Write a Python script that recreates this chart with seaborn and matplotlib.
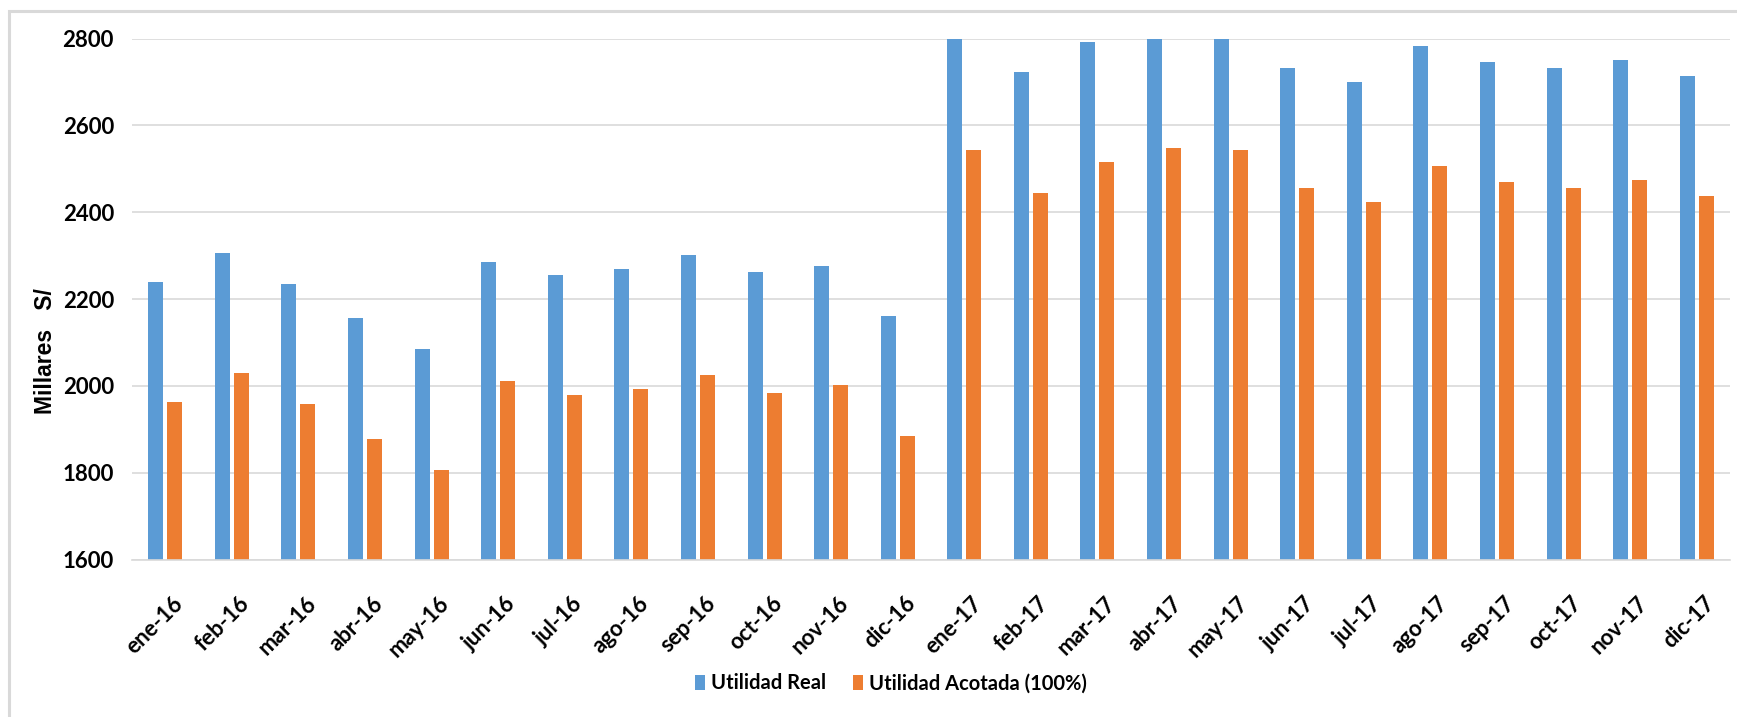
import numpy as np
import pandas as pd
import matplotlib
matplotlib.use("Agg")
import matplotlib.pyplot as plt
from matplotlib.patches import Rectangle
from matplotlib.ticker import FixedLocator
from matplotlib.font_manager import FontProperties
from matplotlib.transforms import ScaledTranslation
import seaborn as sns

# Monthly profit figures, thousands of soles
meses = [
    "ene-16", "feb-16", "mar-16", "abr-16", "may-16", "jun-16",
    "jul-16", "ago-16", "sep-16", "oct-16", "nov-16", "dic-16",
    "ene-17", "feb-17", "mar-17", "abr-17", "may-17", "jun-17",
    "jul-17", "ago-17", "sep-17", "oct-17", "nov-17", "dic-17",
]
utilidad_real = [
    2240, 2306, 2235, 2157, 2085, 2286, 2255, 2270, 2302, 2262, 2276, 2161,
    2800, 2722, 2793, 2800, 2800, 2733, 2699, 2782, 2747, 2733, 2750, 2713,
]
utilidad_acotada = [
    1963, 2029, 1958, 1877, 1807, 2012, 1978, 1992, 2024, 1983, 2001, 1885,
    2544, 2444, 2516, 2547, 2544, 2456, 2424, 2507, 2470, 2456, 2473, 2438,
]
series = ["Utilidad Real", "Utilidad Acotada (100%)"]
colores = ["#5B9BD5", "#ED7D31"]
yticks = [1600, 1800, 2000, 2200, 2400, 2600, 2800]

sns.set_style("white")
plt.rcParams["font.family"] = ["Lato", "DejaVu Sans"]
plt.rcParams["text.color"] = "black"

df = pd.DataFrame({
    "Mes": meses * 2,
    "Valor": utilidad_real + utilidad_acotada,
    "Serie": [series[0]] * len(meses) + [series[1]] * len(meses),
})

W, H = 1737, 717
fig = plt.figure(figsize=(W / 100, H / 100), dpi=100)
ax = fig.add_axes([132 / W, 1 - 559.5 / H, 1598 / W, 521 / H])

sns.barplot(
    data=df, x="Mes", y="Valor", hue="Serie", hue_order=series,
    palette=colores, saturation=1, width=0.57, gap=0.21,
    linewidth=0, ax=ax,
)

grid_col = "#d9d9d9"
ax.set_ylim(1600, 2800)
ax.set_xlim(-0.5, len(meses) - 0.5)
ax.set_yticks(yticks)
ax.yaxis.grid(True, color=grid_col, linewidth=1.2)
ax.xaxis.grid(False)
ax.set_axisbelow(True)
for s in ("top", "right", "left"):
    ax.spines[s].set_visible(False)
ax.spines["bottom"].set_color(grid_col)
ax.spines["bottom"].set_linewidth(1.2)

# y tick labels
ax.tick_params(axis="y", length=0, pad=13, labelsize=16, labelcolor="black")
for t in ax.get_yticklabels():
    t.set_fontweight("bold")

# category separators below the axis
ax.xaxis.set_minor_locator(FixedLocator(np.arange(-0.5, len(meses), 1.0)))
ax.tick_params(axis="x", which="minor", length=5.5, width=1.2,
               color=grid_col, direction="out")
ax.tick_params(axis="x", which="major", length=0, pad=24, labelsize=16,
               labelcolor="black")
nudge = ScaledTranslation(5 / 72, 0, fig.dpi_scale_trans)
for t in ax.get_xticklabels():
    t.set_rotation(45)
    t.set_ha("right")
    t.set_va("top")
    t.set_rotation_mode("anchor")
    t.set_fontweight("bold")
    t.set_transform(t.get_transform() + nudge)

ax.set_xlabel("")
ylab_font = FontProperties(family=["Liberation Sans", "DejaVu Sans"],
                           weight="bold", size=16.5)
ax.set_ylabel("Millares   S/", fontproperties=ylab_font, color="black")
ax.yaxis.set_label_coords(-0.047, 0.40)

# legend below the plot
handles, labels = ax.get_legend_handles_labels()
ax.get_legend().remove()
fig.legend(
    handles, labels, loc="center", bbox_to_anchor=(0.513, 0.047),
    ncol=2, frameon=False, prop={"family": "Lato", "size": 14.5, "weight": "bold"},
    handlelength=0.5, handleheight=0.75, handletextpad=0.3,
    columnspacing=1.3,
)

# chart area frame
fig.add_artist(Rectangle(
    (9 / W, -0.05), 1.2, 1 - 11 / H + 0.05, transform=fig.transFigure,
    fill=False, edgecolor=grid_col, linewidth=2.2,
))

fig.savefig("out.png", dpi=100)
